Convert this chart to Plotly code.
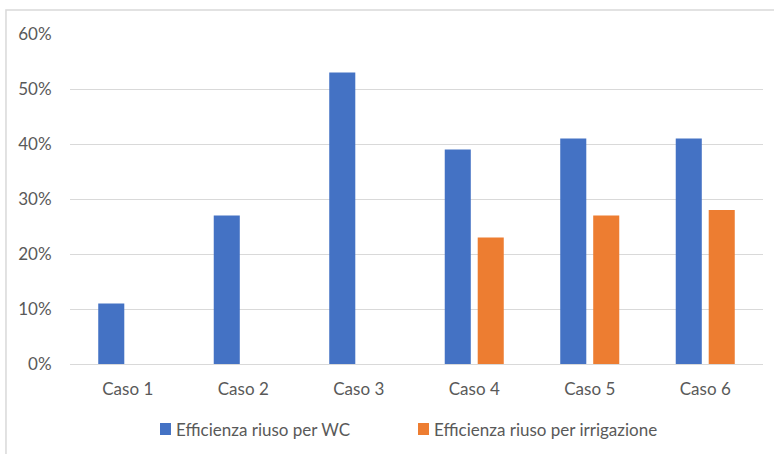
import plotly.graph_objects as go

categories = ["Caso 1", "Caso 2", "Caso 3", "Caso 4", "Caso 5", "Caso 6"]
wc_values = [0.11, 0.27, 0.53, 0.39, 0.41, 0.41]
irr_values = [None, None, None, 0.23, 0.27, 0.28]
series_names = ["Efficienza riuso per WC", "Efficienza riuso per irrigazione"]
series_colors = ["#4472C4", "#ED7D31"]
tick_vals = [0, 0.1, 0.2, 0.3, 0.4, 0.5, 0.6]
tick_text = ["0%", "10%", "20%", "30%", "40%", "50%", "60%"]

font_family = "Lato, Open Sans, sans-serif"
text_color = "#595959"
fsize = 17

fig = go.Figure()
fig.add_trace(go.Bar(x=categories, y=wc_values, name=series_names[0],
                     marker=dict(color=series_colors[0], line=dict(width=0))))
fig.add_trace(go.Bar(x=categories, y=irr_values, name=series_names[1],
                     marker=dict(color=series_colors[1], line=dict(width=0))))

# custom legend (square + text, Excel style)
legend_sq = [(0.1299, 0.1457), (0.5022, 0.518)]
legend_tx = [0.1501, 0.5224]
shapes = [dict(type="rect", xref="paper", yref="paper",
               x0=-0.0924, x1=1.03, y0=-0.3, y1=1.0727,
               line=dict(color="#d9d9d9", width=1.5), fillcolor="rgba(0,0,0,0)",
               layer="below")]
annotations = []
for i in range(2):
    shapes.append(dict(type="rect", xref="paper", yref="paper",
                       x0=legend_sq[i][0], x1=legend_sq[i][1], y0=-0.2152, y1=-0.1788,
                       line=dict(width=0), fillcolor=series_colors[i]))
    annotations.append(dict(xref="paper", yref="paper", x=legend_tx[i], y=-0.197,
                            xanchor="left", yanchor="middle", showarrow=False,
                            text=series_names[i],
                            font=dict(family=font_family, size=fsize, color=text_color)))

fig.update_layout(
    width=774, height=454,
    margin=dict(l=70, r=11, t=34, b=90),
    paper_bgcolor="white", plot_bgcolor="white",
    barmode="group", bargap=0.429, bargroupgap=0.21,
    font=dict(family=font_family, size=fsize, color=text_color),
    showlegend=False,
    xaxis=dict(showgrid=False, showline=True, linecolor="#d9d9d9", linewidth=1,
               ticks="outside", ticklen=10, tickcolor="rgba(0,0,0,0)",
               tickfont=dict(size=fsize, color=text_color)),
    yaxis=dict(range=[0, 0.6], tickvals=tick_vals, ticktext=tick_text,
               showgrid=True, gridcolor="#d9d9d9", gridwidth=1,
               zeroline=False, showline=False,
               ticks="outside", ticklen=14, tickcolor="rgba(0,0,0,0)",
               tickfont=dict(size=fsize, color=text_color)),
    shapes=shapes,
    annotations=annotations,
)

fig.write_html("out.html", config={"displayModeBar": False},
               post_script="document.body.style.margin='0';document.body.style.overflow='hidden';")
